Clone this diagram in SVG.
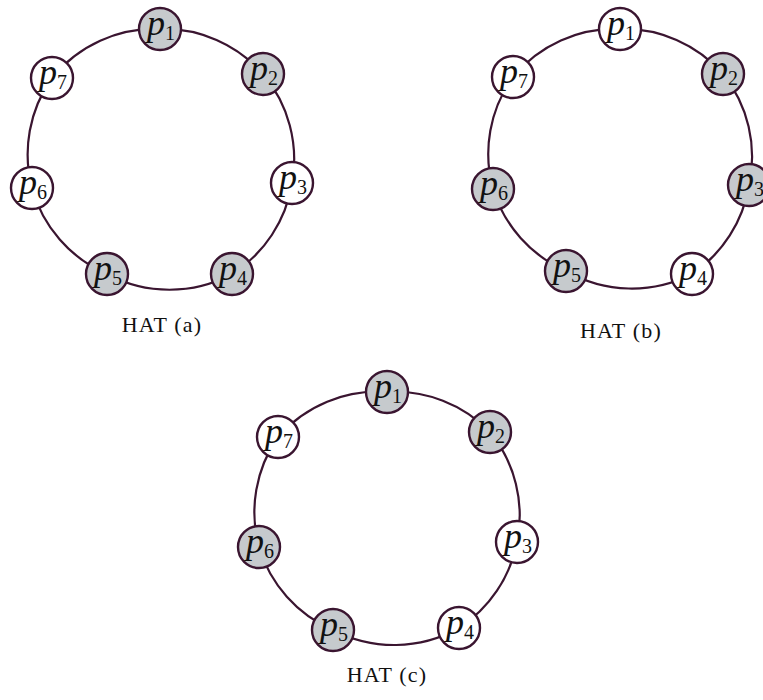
<svg xmlns="http://www.w3.org/2000/svg" width="763" height="700" viewBox="0 0 763 700">
<style>
.edge{fill:none;stroke:#3a1530;stroke-width:2.2}
.n{stroke:#3a1530;stroke-width:2.4}
.w{fill:#ffffff}
.g{fill:#c6cacd}
.p{font-family:"Liberation Serif",serif;font-style:italic;font-size:36px;fill:#111}
.s{font-style:normal;font-size:20px}
.cap{font-family:"Liberation Serif",serif;font-size:22px;fill:#111;letter-spacing:1.2px}
</style>
<rect width="763" height="700" fill="#fff"/>
<g id="connectors">
<path class="edge" d="M160 29 A132 132 0 0 1 263 74 A132 132 0 0 1 292 183 A132 132 0 0 1 232 274 A132 132 0 0 1 107 274 A132 132 0 0 1 32 188 A132 132 0 0 1 52 78 A132 132 0 0 1 160 29"/>
<path class="edge" d="M620 29 A132 132 0 0 1 723 74 A132 132 0 0 1 749 185 A132 132 0 0 1 692 274 A132 132 0 0 1 566 271 A132 132 0 0 1 493 189 A132 132 0 0 1 513 77 A132 132 0 0 1 620 29"/>
<path class="edge" d="M387 392 A132 132 0 0 1 490 432 A132 132 0 0 1 517 542 A132 132 0 0 1 459 628 A132 132 0 0 1 333 630 A132 132 0 0 1 259 547 A132 132 0 0 1 278 437 A132 132 0 0 1 387 392"/>
</g>
<g id="a-p1"><circle class="n g" cx="160" cy="29" r="21"/><text class="p" x="161" y="35" text-anchor="middle">p<tspan class="s" dy="5">1</tspan></text></g>
<g id="a-p2"><circle class="n g" cx="263" cy="74" r="21"/><text class="p" x="264" y="80" text-anchor="middle">p<tspan class="s" dy="5">2</tspan></text></g>
<g id="a-p3"><circle class="n w" cx="292" cy="183" r="21"/><text class="p" x="293" y="189" text-anchor="middle">p<tspan class="s" dy="5">3</tspan></text></g>
<g id="a-p4"><circle class="n g" cx="232" cy="274" r="21"/><text class="p" x="233" y="280" text-anchor="middle">p<tspan class="s" dy="5">4</tspan></text></g>
<g id="a-p5"><circle class="n g" cx="107" cy="274" r="21"/><text class="p" x="108" y="280" text-anchor="middle">p<tspan class="s" dy="5">5</tspan></text></g>
<g id="a-p6"><circle class="n w" cx="32" cy="188" r="21"/><text class="p" x="33" y="194" text-anchor="middle">p<tspan class="s" dy="5">6</tspan></text></g>
<g id="a-p7"><circle class="n w" cx="52" cy="78" r="21"/><text class="p" x="53" y="84" text-anchor="middle">p<tspan class="s" dy="5">7</tspan></text></g>
<text class="cap" x="162" y="332" text-anchor="middle">HAT (a)</text>

<g id="b-p1"><circle class="n w" cx="620" cy="29" r="21"/><text class="p" x="621" y="35" text-anchor="middle">p<tspan class="s" dy="5">1</tspan></text></g>
<g id="b-p2"><circle class="n g" cx="723" cy="74" r="21"/><text class="p" x="724" y="80" text-anchor="middle">p<tspan class="s" dy="5">2</tspan></text></g>
<g id="b-p3"><circle class="n g" cx="749" cy="185" r="21"/><text class="p" x="750" y="191" text-anchor="middle">p<tspan class="s" dy="5">3</tspan></text></g>
<g id="b-p4"><circle class="n w" cx="692" cy="274" r="21"/><text class="p" x="693" y="280" text-anchor="middle">p<tspan class="s" dy="5">4</tspan></text></g>
<g id="b-p5"><circle class="n g" cx="566" cy="271" r="21"/><text class="p" x="567" y="277" text-anchor="middle">p<tspan class="s" dy="5">5</tspan></text></g>
<g id="b-p6"><circle class="n g" cx="493" cy="189" r="21"/><text class="p" x="494" y="195" text-anchor="middle">p<tspan class="s" dy="5">6</tspan></text></g>
<g id="b-p7"><circle class="n w" cx="513" cy="77" r="21"/><text class="p" x="514" y="83" text-anchor="middle">p<tspan class="s" dy="5">7</tspan></text></g>
<text class="cap" x="621" y="338" text-anchor="middle">HAT (b)</text>

<g id="c-p1"><circle class="n g" cx="387" cy="392" r="21"/><text class="p" x="388" y="398" text-anchor="middle">p<tspan class="s" dy="5">1</tspan></text></g>
<g id="c-p2"><circle class="n g" cx="490" cy="432" r="21"/><text class="p" x="491" y="438" text-anchor="middle">p<tspan class="s" dy="5">2</tspan></text></g>
<g id="c-p3"><circle class="n w" cx="517" cy="542" r="21"/><text class="p" x="518" y="548" text-anchor="middle">p<tspan class="s" dy="5">3</tspan></text></g>
<g id="c-p4"><circle class="n w" cx="459" cy="628" r="21"/><text class="p" x="460" y="634" text-anchor="middle">p<tspan class="s" dy="5">4</tspan></text></g>
<g id="c-p5"><circle class="n g" cx="333" cy="630" r="21"/><text class="p" x="334" y="636" text-anchor="middle">p<tspan class="s" dy="5">5</tspan></text></g>
<g id="c-p6"><circle class="n g" cx="259" cy="547" r="21"/><text class="p" x="260" y="553" text-anchor="middle">p<tspan class="s" dy="5">6</tspan></text></g>
<g id="c-p7"><circle class="n w" cx="278" cy="437" r="21"/><text class="p" x="279" y="443" text-anchor="middle">p<tspan class="s" dy="5">7</tspan></text></g>
<text class="cap" x="387" y="682" text-anchor="middle">HAT (c)</text>
</svg>
